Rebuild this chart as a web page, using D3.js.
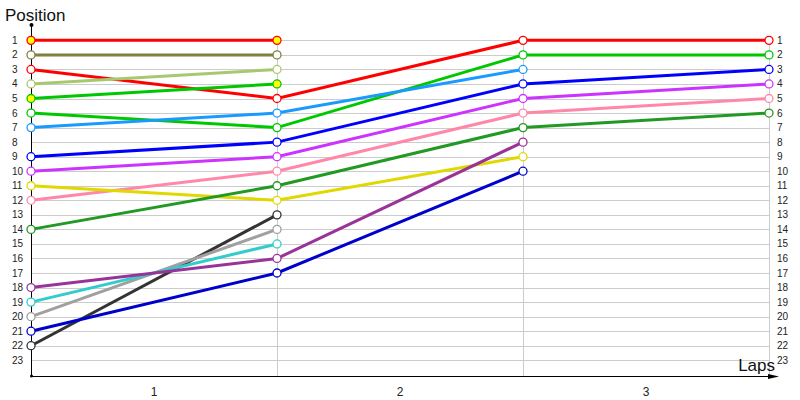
<!DOCTYPE html>
<html>
<head>
<meta charset="utf-8">
<script src="https://cdn.jsdelivr.net/npm/d3@7"></script>
<style>
  body { margin: 0; background: #fff; }
  svg { display: block; font-family: "Liberation Sans", Arial, sans-serif; }
</style>
</head>
<body>
<div id="chartArea"></div>
<script>
// Lap columns and the position rows
const laps = [0, 1, 2, 3];
const lapLabels = ['1', '2', '3'];
const positions = d3.range(1, 24);

// One entry per driver: position at each lap (missing laps = retired)
const driverColors = [
    '#ff0000', '#808040', '#ff0000', '#a8c870', '#00c800', '#00c800',
    '#1a9aff', '#0000ff', '#cc33ff', '#ff88aa', '#e0d800', '#229922',
    '#333333', '#a0a0a0', '#33cccc', '#993399', '#0000cc'
];
const driverPositions = [
    [1, 1],
    [2, 2],
    [3, 5, 1, 1],
    [4, 3],
    [5, 4],
    [6, 7, 2, 2],
    [7, 6, 3],
    [9, 8, 4, 3],
    [10, 9, 5, 4],
    [12, 10, 6, 5],
    [11, 12, 9],
    [14, 11, 7, 6],
    [22, 13],
    [20, 14],
    [19, 15],
    [18, 16, 8],
    [21, 17, 10]
];
const markerFills = [
    '#ffff00', '#fff', '#fff', '#fff', '#ffff00', '#fff', '#fff', '#fff', '#fff',
    '#fff', '#fff', '#fff', '#fff', '#fff', '#fff', '#fff', '#fff'
];

// Positions of the final lap, shown on the right side
const finalLabels = d3.range(1, 24);

let width = 800, height = 400;

let svg = d3.select('#chartArea').append('svg')
    .attr('width', width)
    .attr('height', height);

let xScale = d3.scaleLinear().domain([0, 3]).range([31, 769]);
let yScale = d3.scaleLinear().domain([0, 24]).range([25.8, 374.8]);
let axisY = 376;

// horizontal grid
svg.append('g').selectAll('line')
    .data(positions)
    .enter().append('line')
    .attr('x1', xScale(0)).attr('x2', xScale(3))
    .attr('y1', d => Math.round(yScale(d)) + 0.5)
    .attr('y2', d => Math.round(yScale(d)) + 0.5)
    .attr('stroke', '#cccccc');

// vertical grid
svg.append('g').selectAll('line')
    .data(laps.slice(1))
    .enter().append('line')
    .attr('x1', d => Math.round(xScale(d)) + 0.5)
    .attr('x2', d => Math.round(xScale(d)) + 0.5)
    .attr('y1', yScale(1)).attr('y2', axisY)
    .attr('stroke', '#cccccc');

// left tick labels
svg.append('g').selectAll('text')
    .data(positions)
    .enter().append('text')
    .attr('x', 12)
    .attr('y', d => yScale(d))
    .attr('dy', '0.35em')
    .style('font-size', '10px')
    .attr('fill', '#222')
    .text(d => d);

// right tick labels
svg.append('g').selectAll('text')
    .data(finalLabels)
    .enter().append('text')
    .attr('x', 777)
    .attr('y', d => yScale(d))
    .attr('dy', '0.35em')
    .style('font-size', '10px')
    .attr('fill', '#222')
    .text(d => d);

// x band labels
svg.append('g').selectAll('text')
    .data(lapLabels)
    .enter().append('text')
    .attr('x', (d, i) => (xScale(i) + xScale(i + 1)) / 2)
    .attr('y', 392)
    .attr('dy', '0.35em')
    .attr('text-anchor', 'middle')
    .style('font-size', '12px')
    .attr('fill', '#222')
    .text(d => d);

// axes
svg.append('line')
    .attr('x1', 31.5).attr('x2', 31.5)
    .attr('y1', 25).attr('y2', axisY)
    .attr('stroke', '#000');
svg.append('circle').attr('cx', 31.5).attr('cy', 25).attr('r', 2).attr('fill', '#000');
svg.append('circle').attr('cx', 31.5).attr('cy', axisY).attr('r', 1.5).attr('fill', '#000');
svg.append('line')
    .attr('x1', 31).attr('x2', 775)
    .attr('y1', axisY + 0.5).attr('y2', axisY + 0.5)
    .attr('stroke', '#000');
svg.append('path')
    .attr('d', 'M768,' + (axisY - 2) + 'L779,' + (axisY + 0.5) + 'L768,' + (axisY + 3) + 'Z')
    .attr('fill', '#000');

let line = d3.line()
    .x((d, i) => xScale(laps[i]))
    .y(d => yScale(d));

// driver lines
svg.append('g').selectAll('path')
    .data(driverPositions)
    .enter().append('path')
    .attr('d', d => line(d))
    .attr('fill', 'none')
    .attr('stroke', (d, i) => driverColors[i])
    .attr('stroke-width', 3);

// markers
driverPositions.forEach((series, k) => {
    svg.append('g').selectAll('circle')
        .data(series)
        .enter().append('circle')
        .attr('cx', (d, i) => xScale(laps[i]))
        .attr('cy', d => yScale(d))
        .attr('r', 4)
        .attr('fill', markerFills[k])
        .attr('stroke', driverColors[k])
        .attr('stroke-width', 1.3);
});

// axis titles
svg.append('text')
    .attr('x', 5).attr('y', 21)
    .style('font-size', '17px')
    .attr('fill', '#111')
    .text('Position');

svg.append('text')
    .attr('x', 775).attr('y', 371)
    .attr('text-anchor', 'end')
    .style('font-size', '17px')
    .attr('fill', '#111')
    .text('Laps');
</script>
</body>
</html>
